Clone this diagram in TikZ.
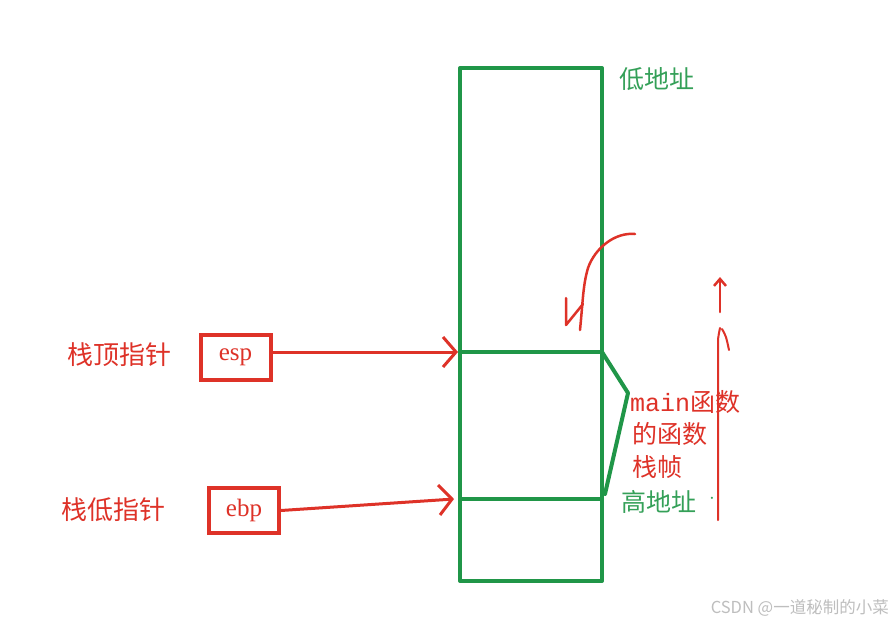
\documentclass[tikz,border=0pt]{standalone}
\usepackage{fontspec}
\newfontfamily\cjk{Noto Sans CJK SC}
\newfontfamily\mono{Liberation Mono}
\newfontfamily\serif{Liberation Serif}
\usetikzlibrary{arrows.meta}
\definecolor{pred}{RGB}{222,50,40}
\definecolor{pgreen}{RGB}{32,150,72}
\definecolor{tgreen}{RGB}{52,160,88}
\definecolor{wm}{RGB}{190,190,190}
\tikzset{
  gline/.style={draw=pgreen,line width=4pt,line cap=round,line join=round},
  rline/.style={draw=pred,line width=3pt,line cap=round,line join=round},
  rarrow/.style={rline,-{Straight Barb[length=13pt,width=30pt,line width=3pt]}},
  regbox/.style={draw=pred,line width=4pt,minimum width=70pt,minimum height=45pt,inner sep=0pt,font=\serif\fontsize{25}{25}\selectfont,text=pred},
  redlabel/.style={font=\cjk\fontsize{25}{25}\selectfont,text=pred,inner sep=0pt,anchor=west},
  greenlabel/.style={font=\cjk\fontsize{25}{25}\selectfont,text=tgreen,inner sep=0pt,anchor=west},
}
\begin{document}
\begin{tikzpicture}[x=1pt,y=-1pt]
\useasboundingbox[fill=white] (0,0) rectangle (895,625);
% stack
\coordinate (tl) at (460,68);
\coordinate (br) at (602,581);
\draw[gline] (tl) rectangle (br);
\coordinate (esptl) at (460,352);
\coordinate (espr) at (602,352);
\coordinate (ebptl) at (460,499);
\coordinate (ebpr) at (602,499);
\coordinate (tip) at (628,393);
\draw[gline] (esptl) -- (espr);
\draw[gline] (ebptl) -- (ebpr);
\draw[gline] (espr) -- (tip) -- (605,494);
% labels
\node[greenlabel] (low) at (619,79) {低地址};
\node[redlabel] (l1) at (630,402) {{\mono main}函数};
\node[redlabel] (l2) at (632,434) {的函数};
\node[redlabel] (l3) at (632,467) {栈帧};
\node[greenlabel] (high) at (621,502) {高地址};
\node[text=tgreen,inner sep=0pt,font=\fontsize{20}{20}\selectfont] (dot) at (712,499) {$\cdot$};
% pointers
\node[redlabel,font=\cjk\fontsize{26}{26}\selectfont] (top) at (67,355) {栈顶指针};
\node[redlabel,font=\cjk\fontsize{26}{26}\selectfont] (bot) at (61,510) {栈低指针};
\node[regbox] (esp) at (235.5,357.5) {esp};
\node[regbox] (ebp) at (244,510.5) {ebp};
\draw[rarrow] (esp.east |- esptl) -- ([xshift=-2pt]esptl);
\draw[rarrow] (ebp.east) -- ([xshift=-6pt]ebptl);
% hand strokes
\draw[rline,line width=2.5pt] (635,234) .. controls (615,232) and (595,248) .. (588,268)
  .. controls (583,285) and (583,300) .. (580,330);
\draw[rline,line width=2.5pt] (566,298) -- (566,325) -- (583,304);
\draw[rline,line width=2.5pt,-{Straight Barb[length=7pt,width=12pt,line width=2.5pt]}] (720,312) -- (720,277);
\draw[rline,line width=2pt] (718,520) -- (718,345) .. controls (718,338) .. (720,328);
\draw[rline,line width=2pt] (722,329) .. controls (726,336) .. (729,350);
% watermark
\node[font=\cjk\fontsize{16.5}{16.5}\selectfont,text=wm,inner sep=0pt,anchor=east] (wmk) at (889,608) {CSDN @一道秘制的小菜};
\end{tikzpicture}
\end{document}
